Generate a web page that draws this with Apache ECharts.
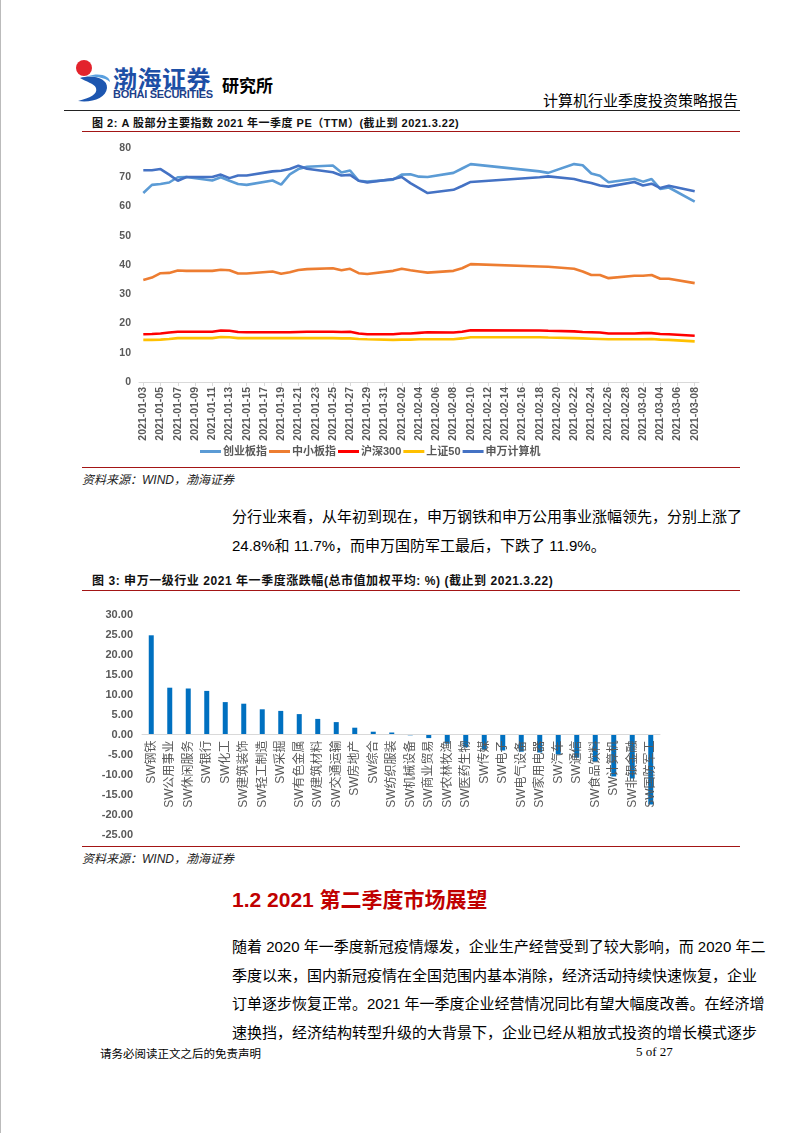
<!DOCTYPE html>
<html><head><meta charset="utf-8">
<script src="https://cdn.jsdelivr.net/npm/echarts@6/dist/echarts.min.js"></script>
<style>
html,body{margin:0;padding:0;background:#fff;}
#page{position:relative;width:802px;height:1133px;overflow:hidden;font-family:"Liberation Sans","Noto Sans CJK SC",sans-serif;color:#000;}
.abs{position:absolute;white-space:nowrap;}
.hl{position:absolute;height:0;}
.jl{position:absolute;left:232px;width:506px;font-size:15px;line-height:20px;text-align:justify;text-align-last:justify;white-space:nowrap;}
.cap{position:absolute;left:92px;font-weight:bold;line-height:14px;color:#111;white-space:nowrap;}
.src{position:absolute;left:82px;font-size:12px;font-style:italic;color:#222;}
</style></head>
<body><div id="page">
<div class="abs" style="left:0;top:0;width:1px;height:1133px;background:#bbb"></div>
<svg class="abs" style="left:74px;top:58px" width="40" height="46" viewBox="0 0 40 46">
  <circle cx="10" cy="10" r="8" fill="#e3232c"/>
  <path d="M6 20 C18 16 34 20 33 30 C32 40 18 45 4 43 C16 40 24 36 22 30 C20 25 12 24 6 20 Z" fill="#1d56b0"/>
  <path d="M14 18 C26 14 36 18 36 24 C30 19 22 19 14 18 Z" fill="#5aa0e0"/>
</svg>
<div class="abs" style="left:113px;top:60px;font-size:24px;font-weight:bold;color:#1d4fa6;letter-spacing:0.5px;font-family:'Noto Sans CJK SC'">渤海证券</div>
<div class="abs" style="left:113px;top:88px;font-size:11px;font-weight:bold;color:#1d3f8a;letter-spacing:-0.3px">BOHAI SECURITIES</div>
<div class="abs" style="left:222px;top:72px;font-size:17px;font-weight:bold;font-family:'Noto Sans CJK SC'">研究所</div>
<div class="abs" style="left:538px;top:89px;font-size:15px;font-family:'Noto Sans CJK SC';width:200px;text-align:right">计算机行业季度投资策略报告</div>
<div class="hl" style="left:64px;top:110px;width:676px;border-top:1.5px solid #222"></div>

<div class="cap" style="top:116px;font-size:11px;letter-spacing:0.5px">图 2: A 股部分主要指数 2021 年一季度 PE（TTM）(截止到 2021.3.22)</div>
<div class="hl" style="left:82px;top:131px;width:658px;border-top:1.5px solid #a31515"></div>
<div id="c1" class="abs" style="left:82px;top:135px;width:660px;height:330px"></div>
<div class="hl" style="left:82px;top:467px;width:658px;border-top:1.5px solid #a31515"></div>
<div class="src" style="top:470px">资料来源：WIND，渤海证券</div>

<div class="jl" style="top:507px">分行业来看，从年初到现在，申万钢铁和申万公用事业涨幅领先，分别上涨了</div>
<div class="abs" style="left:232px;top:536px;font-size:15px;line-height:20px">24.8%和 11.7%，而申万国防军工最后，下跌了 11.9%。</div>

<div class="cap" style="top:574px;font-size:12px;letter-spacing:0.55px">图 3: 申万一级行业 2021 年一季度涨跌幅(总市值加权平均: %) (截止到 2021.3.22)</div>
<div class="hl" style="left:82px;top:590px;width:658px;border-top:1.5px solid #a31515"></div>
<div id="c2" class="abs" style="left:82px;top:600px;width:660px;height:245px"></div>
<div class="hl" style="left:82px;top:846px;width:658px;border-top:1.5px solid #a31515"></div>
<div class="src" style="top:849px">资料来源：WIND，渤海证券</div>

<div class="abs" style="left:232px;top:885px;font-size:21px;font-weight:bold;color:#c00000;line-height:30px">1.2 2021 第二季度市场展望</div>

<div class="jl" style="top:937px">随着 2020 年一季度新冠疫情爆发，企业生产经营受到了较大影响，而 2020 年二</div>
<div class="jl" style="top:966px">季度以来，国内新冠疫情在全国范围内基本消除，经济活动持续快速恢复，企业</div>
<div class="jl" style="top:994px">订单逐步恢复正常。2021 年一季度企业经营情况同比有望大幅度改善。在经济增</div>
<div class="jl" style="top:1023px">速换挡，经济结构转型升级的大背景下，企业已经从粗放式投资的增长模式逐步</div>

<div class="abs" style="left:100px;top:1045px;font-size:11.5px;font-family:'Noto Sans CJK SC'">请务必阅读正文之后的免责声明</div>
<div class="abs" style="left:636px;top:1044px;font-size:13px;font-family:'Liberation Serif'">5 of 27</div>
</div>
<script>
// ---------- Figure 2 data ----------
const axisStart = '2021-01-03';
const axisEnd = '2021-03-08';
const tradeDates = ['2021-01-03','2021-01-04','2021-01-05','2021-01-06','2021-01-07','2021-01-08',
 '2021-01-11','2021-01-12','2021-01-13','2021-01-14','2021-01-15',
 '2021-01-18','2021-01-19','2021-01-20','2021-01-21','2021-01-22',
 '2021-01-25','2021-01-26','2021-01-27','2021-01-28','2021-01-29',
 '2021-02-01','2021-02-02','2021-02-03','2021-02-04','2021-02-05',
 '2021-02-08','2021-02-09','2021-02-10','2021-02-18','2021-02-19',
 '2021-02-22','2021-02-23','2021-02-24','2021-02-25','2021-02-26',
 '2021-03-01','2021-03-02','2021-03-03','2021-03-04','2021-03-05','2021-03-08'];
const cybPE = [64.6,67.4,67.7,68.2,70.0,70.1, 68.9,70.0,68.8,67.7,67.4, 68.9,67.5,71.0,72.8,73.6, 74.0,71.6,72.3,68.8,68.5, 69.2,70.9,71.0,70.2,70.1, 71.5,73.0,74.5,72.0,71.5, 74.5,74.1,71.3,70.5,68.3, 69.5,68.5,69.4,66.0,66.5,61.7];
const zxbPE = [34.9,35.7,37.2,37.3,38.1,38.0, 38.0,38.4,38.2,37.1,37.1, 37.8,37.0,37.5,38.3,38.6, 38.9,38.2,38.7,37.2,36.9, 38.0,38.7,38.2,37.8,37.4, 38.0,38.9,40.3,39.5,39.4, 38.7,37.8,36.6,36.6,35.5, 36.3,36.3,36.6,35.3,35.3,33.8];
const hs300PE = [16.3,16.4,16.6,16.9,17.2,17.2, 17.2,17.6,17.5,17.1,17.0, 17.0,17.0,17.0,17.1,17.2, 17.2,17.1,17.2,16.6,16.3, 16.3,16.6,16.6,16.8,17.0, 16.9,17.2,17.7,17.6,17.5, 17.3,17.1,17.0,16.9,16.6, 16.6,16.7,16.7,16.4,16.3,15.8];
const sz50PE = [14.4,14.4,14.5,14.7,15.0,15.0, 15.0,15.4,15.3,15.0,15.0, 15.0,15.0,15.0,15.0,15.0, 15.0,14.9,14.9,14.7,14.6, 14.4,14.5,14.5,14.6,14.6, 14.6,14.9,15.3,15.3,15.2, 15.0,14.9,14.8,14.7,14.6, 14.6,14.6,14.7,14.5,14.4,13.9];
const swjsjPE = [72.4,72.4,72.8,70.9,68.8,70.1, 70.1,70.9,69.7,70.6,70.6, 72.0,72.2,72.8,73.9,72.9, 71.7,70.6,70.8,68.8,68.2, 69.4,70.1,68.0,66.3,64.6, 65.7,67.0,68.4,70.0,70.3, 69.4,68.6,68.0,67.2,66.8, 68.4,67.2,67.8,66.3,67.1,65.2];
const seriesNames1 = ['创业板指','中小板指','沪深300','上证50','申万计算机'];
const seriesColors1 = ['#5b9bd5','#ed7d31','#ff0000','#ffc000','#4472c4'];

// ---------- Figure 3 data ----------
const industries = ['SW钢铁','SW公用事业','SW休闲服务','SW银行','SW化工','SW建筑装饰','SW轻工制造','SW采掘','SW有色金属','SW建筑材料','SW交通运输','SW房地产','SW综合','SW纺织服装','SW机械设备','SW商业贸易','SW农林牧渔','SW医药生物','SW传媒','SW电子','SW电气设备','SW家用电器','SW汽车','SW通信','SW食品饮料','SW计算机','SW非银金融','SW国防军工'];
const changes = [24.8,11.7,11.5,10.9,8.1,7.7,6.3,5.9,5.1,3.9,3.1,1.7,0.7,0.5,-0.2,-0.9,-2.3,-3.2,-3.8,-4.0,-4.3,-4.5,-5.0,-5.8,-6.8,-10.5,-11.0,-17.5];
const yMin2 = -25, yMax2 = 30, yStep2 = 5;

function calendarDays(s, e){
  const out = []; let t = Date.parse(s + 'T00:00:00Z'); const end = Date.parse(e + 'T00:00:00Z');
  while (t <= end){ out.push(new Date(t).toISOString().slice(0,10)); t += 86400000; }
  return out;
}
const days = calendarDays(axisStart, axisEnd);
function onCalendar(vals){
  const m = {}; tradeDates.forEach((d,i)=>{ m[d] = vals[i]; });
  return days.map(d => (d in m) ? m[d] : null);
}
const allVals1 = [cybPE, zxbPE, hs300PE, sz50PE, swjsjPE];

const c1 = echarts.init(document.getElementById('c1'), null, {renderer:'canvas'});
c1.setOption({
  animation:false,
  grid:{left:57, top:13, width:560, height:234, containLabel:false, outerBoundsMode:'none'},
  legend:{
    data:seriesNames1, left:113, top:306, icon:'rect', itemWidth:21, itemHeight:3, itemGap:2,
    textStyle:{color:'#595959', fontSize:11, fontWeight:'bold', fontFamily:'Liberation Sans, Noto Sans CJK SC', padding:[0,0,0,-3]}
  },
  xAxis:{
    type:'category', data:days, boundaryGap:true,
    axisLine:{lineStyle:{color:'#d9d9d9', width:1}},
    axisTick:{show:true, interval:1, alignWithLabel:true, length:4, lineStyle:{color:'#d9d9d9'}},
    axisLabel:{interval:1, rotate:90, margin:5, color:'#595959', fontSize:10.5, fontWeight:'bold', fontFamily:'Liberation Sans'},
    splitLine:{show:false}
  },
  yAxis:{
    type:'value', min:0, max:80, interval:10,
    axisLine:{show:false}, axisTick:{show:false}, splitLine:{show:false},
    axisLabel:{color:'#595959', fontSize:10.5, fontWeight:'bold', margin:8, fontFamily:'Liberation Sans'}
  },
  series: seriesNames1.map((n,i)=>({
    name:n, type:'line', data:onCalendar(allVals1[i]), connectNulls:true, showSymbol:false, symbol:'none',
    lineStyle:{color:seriesColors1[i], width:2.6}, itemStyle:{color:seriesColors1[i]}, z:2+i
  }))
});

const grid2H = 220;
const c2 = echarts.init(document.getElementById('c2'), null, {renderer:'canvas'});
c2.setOption({
  animation:false,
  grid:{left:60, top:14.5, width:518, height:grid2H, containLabel:false, outerBoundsMode:'none'},
  xAxis:{
    type:'category', data:industries, z:10, position:'bottom',
    // place the category axis on the zero line of the value axis
    offset: -grid2H * (0 - yMin2) / (yMax2 - yMin2),
    axisLine:{onZero:false, lineStyle:{color:'#d9d9d9'}},
    axisTick:{show:false},
    axisLabel:{interval:0, rotate:90, margin:6, color:'#595959', fontSize:12, fontFamily:'Liberation Sans, Noto Sans CJK SC'}
  },
  yAxis:{
    type:'value', min:yMin2, max:yMax2, interval:yStep2,
    axisLine:{show:false}, axisTick:{show:false}, splitLine:{show:false},
    axisLabel:{color:'#595959', fontSize:11, fontWeight:'bold', margin:9, fontFamily:'Liberation Sans', formatter:v=>v.toFixed(2)}
  },
  series:[{type:'bar', data:changes, barWidth:5, itemStyle:{color:'#0070c0'}, z:2}]
});
</script>
</body></html>
